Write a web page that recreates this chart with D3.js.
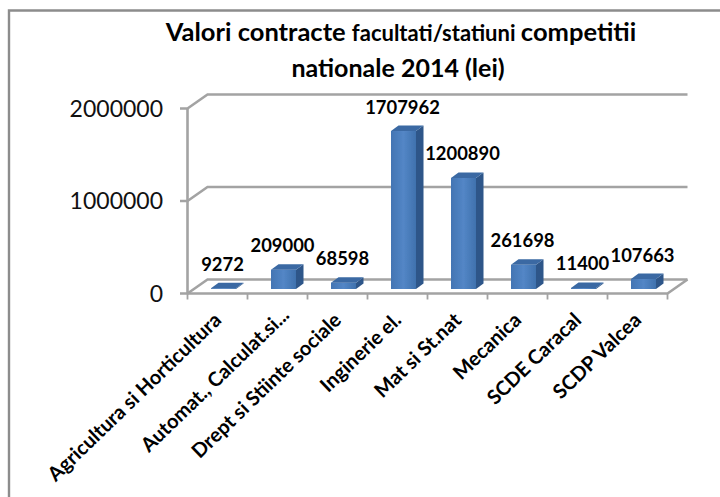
<!DOCTYPE html>
<html><head><meta charset="utf-8">
<script src="https://cdn.jsdelivr.net/npm/d3@7"></script>
<style>html,body{margin:0;padding:0;background:#fff}svg{display:block}text{font-family:Lato,sans-serif}</style>
</head><body><div id="c"></div>
<script>
const categories = ["Agricultura si Horticultura","Automat., Calculat.si...","Drept si Stiinte sociale","Inginerie el.","Mat si St.nat","Mecanica","SCDE Caracal","SCDP Valcea"];
const values = [9272,209000,68598,1707962,1200890,261698,11400,107663];
const yTicks = [0,1000000,2000000];

const W=720,H=497,dx=20,dy=-14,bdx=7.5,bdy=-5.5;
const svg=d3.select("#c").append("svg").attr("width",W).attr("height",H);
const defs=svg.append("defs");
const g=defs.append("linearGradient").attr("id","fr");
[[0,"#4375b3"],[.5,"#5386c6"],[1,"#4072ae"]].forEach(s=>g.append("stop").attr("offset",s[0]).attr("stop-color",s[1]));
defs.append("filter").attr("id","b").append("feGaussianBlur").attr("stdDeviation",0.35);

svg.append("path").attr("d",`M9,${H}V10.5H${W}`).attr("fill","none").attr("stroke","#8c8c8c").attr("stroke-width",2.4);

const x=d3.scaleBand().domain(categories).range([187.5,667.5]).paddingInner(0).paddingOuter(0);
const y=d3.scaleLinear().domain([0,2000000]).range([293.5,108.5]);
const gc="#a3a3a3";
const art=svg.append("g").attr("filter","url(#b)");
yTicks.forEach(t=>{
  art.append("path").attr("d",`M180,${y(t)}H${x.range()[0]}l${dx},${dy}H${x.range()[1]+dx}`).attr("fill","none").attr("stroke",gc).attr("stroke-width",2.6);
});
art.append("path").attr("d",`M${x.range()[0]},${y(0)}V${y(2000000)}`).attr("stroke",gc).attr("stroke-width",2.6);
art.append("path").attr("d",`M${x.range()[0]},${y(0)}H${x.range()[1]}l${dx},${dy}`).attr("fill","none").attr("stroke",gc).attr("stroke-width",2.6);
d3.range(categories.length+1).forEach(i=>{
  const px=x.range()[0]+i*x.step();
  art.append("path").attr("d",`M${px},${y(0)}v6`).attr("stroke",gc).attr("stroke-width",1.8);
});
const base=y(0)-4.5, bw=25;
const bars=art.selectAll("g.bar").data(categories.map((c,i)=>({c,v:values[i]}))).join("g").attr("class","bar");
bars.each(function(d){
  const s=d3.select(this), l=x(d.c)+x.step()/2+6-bw/2, r=l+bw, h=y(0)-y(d.v), t=base-h;
  s.append("rect").attr("x",l).attr("y",t).attr("width",bw).attr("height",h).attr("fill","url(#fr)");
  s.append("path").attr("d",`M${r},${t}l${bdx},${bdy}V${base+bdy}l${-bdx},${-bdy}Z`).attr("fill","#2f5689");
  s.append("path").attr("d",`M${l},${t}l${bdx},${bdy}H${r+bdx}l${-bdx},${-bdy}Z`).attr("fill","#3a69a3");
});
svg.selectAll("text.v").data(values).join("text").attr("class","v")
 .attr("x",(d,i)=>x(categories[i])+x.step()/2+5)
 .attr("y",d=>y(d)-22)
 .attr("text-anchor","middle").attr("font-weight",700).attr("font-size",18.4).attr("fill","#000").text(d=>d);
svg.selectAll("text.yl").data(yTicks).join("text").attr("class","yl")
 .attr("x",163).attr("y",d=>y(d)+8).attr("text-anchor","end").attr("font-size",23).attr("fill","#111").text(d=>d);
svg.selectAll("text.xl").data(categories).join("text").attr("class","xl")
 .attr("transform",c=>{
   const cut=c.endsWith("...");
   return `translate(${x(c)+x.step()/2+5+(cut?8:0)},${y(0)+28-(cut?5:0)}) rotate(-44)`;
 })
 .attr("text-anchor","end").attr("font-weight",700).attr("font-size",20).attr("fill","#000").text(c=>c);
const t1=svg.append("text").attr("x",401).attr("y",41).attr("text-anchor","middle").attr("font-weight",700).attr("font-size",25.5).attr("fill","#000");
t1.append("tspan").text("Valori contracte ");
t1.append("tspan").attr("font-size",22).text("facultati/statiuni ");
t1.append("tspan").text("competitii");
svg.append("text").attr("x",398).attr("y",77).attr("text-anchor","middle").attr("font-weight",700).attr("font-size",25).attr("fill","#000").text("nationale 2014 (lei)");
</script></body></html>
